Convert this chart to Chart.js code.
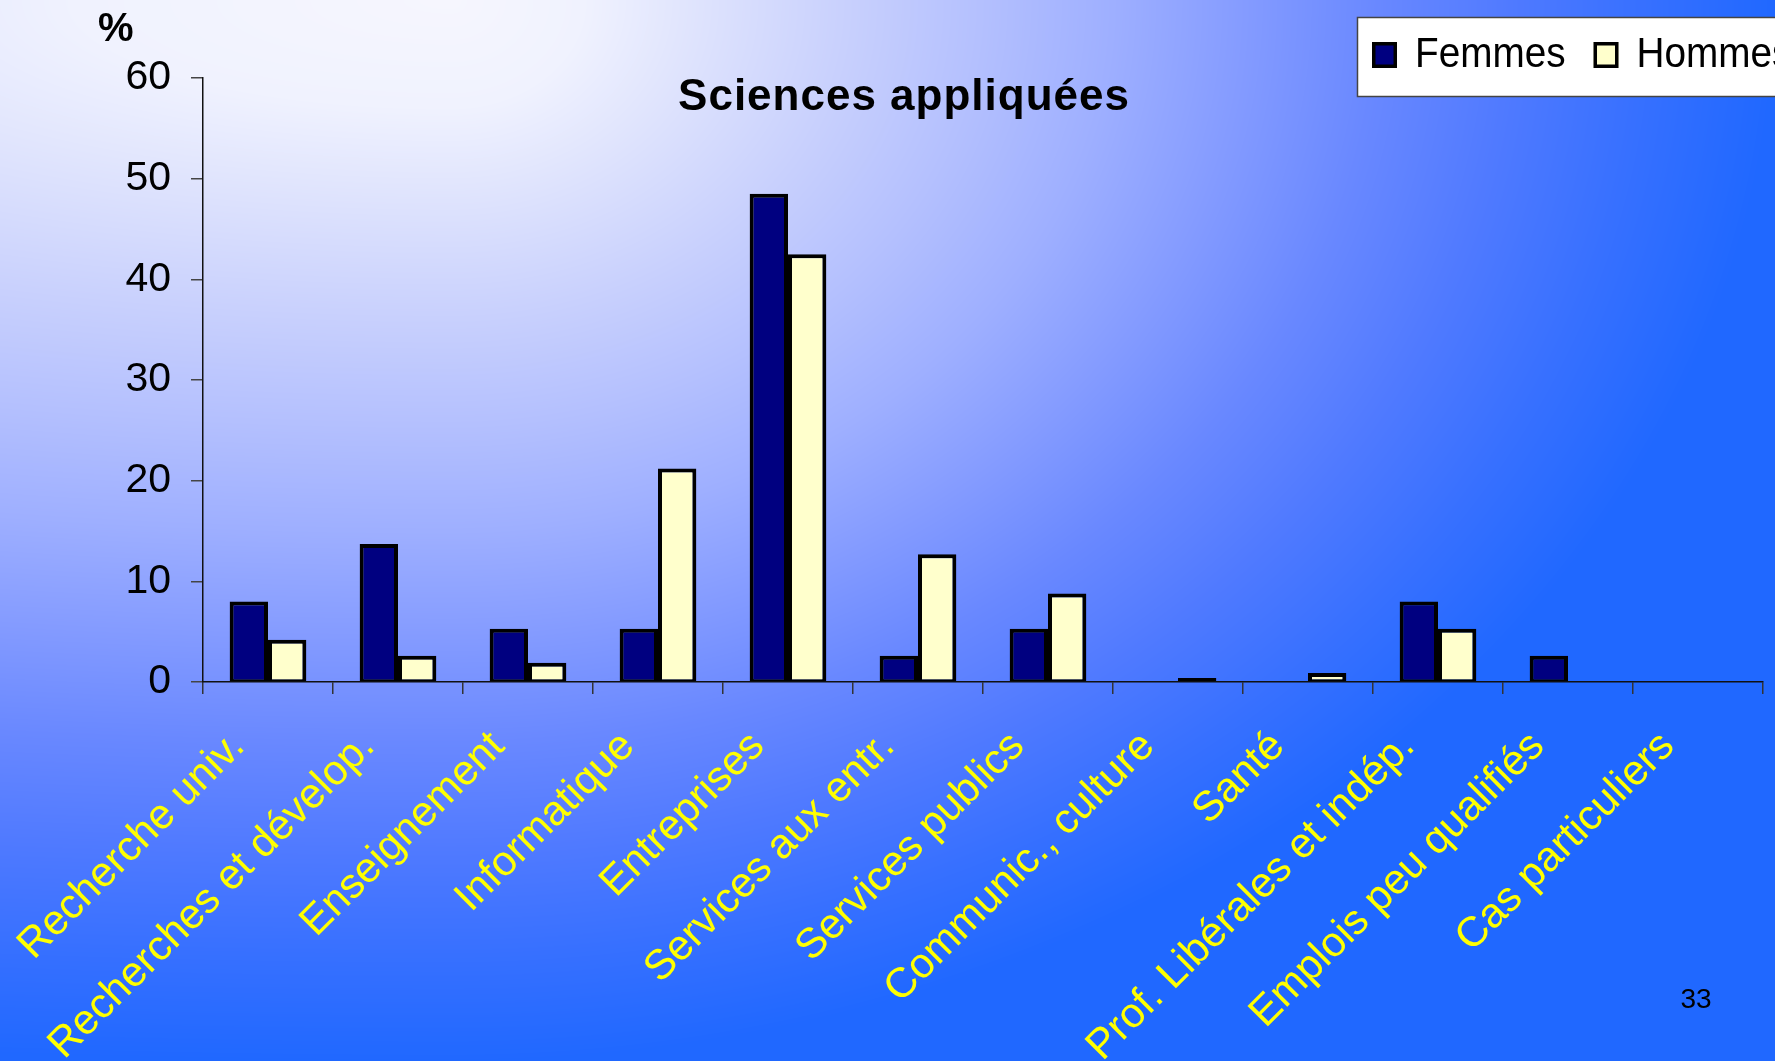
<!DOCTYPE html>
<html>
<head>
<meta charset="utf-8">
<title>Sciences appliquées</title>
<script src="https://cdn.jsdelivr.net/npm/chart.js@4/dist/chart.umd.min.js"></script>
<style>
  html, body { margin: 0; padding: 0; overflow: hidden; background: #ffffff; }
  canvas { display: block; }
</style>
</head>
<body>
<canvas id="chart" width="1775" height="1061"></canvas>
<script>
// Débouchés par secteur, en % des diplômés (Sciences appliquées)
const categories = [
  "Recherche univ.", "Recherches et dévelop.", "Enseignement", "Informatique",
  "Entreprises", "Services aux entr.", "Services publics", "Communic., culture",
  "Santé", "Prof. Libérales et indép.", "Emplois peu qualifiés", "Cas particuliers"
];
const femmes = [8.0, 13.7, 5.3, 5.3, 48.5, 2.6, 5.3, 0, 0, 8.0, 2.6, 0];
const hommes = [4.2, 2.6, 1.9, 21.2, 42.5, 12.7, 8.8, 0.4, 0.9, 5.3, 0, 0];
const seriesNames = ["Femmes", "Hommes"];
const yTicks = [0, 10, 20, 30, 40, 50, 60];
const chartTitle = "Sciences appliquées";
const unitLabel = "%";
const pageNumber = "33";

const FONT = '"Liberation Sans", Arial, Helvetica, sans-serif';

// Slide background: light spot near the top, deepening to blue towards the edges
const bgStops = [
  [0.0, [246, 246, 254]], [0.1, [240, 242, 254]], [0.2, [220, 225, 253]],
  [0.3, [200, 208, 253]], [0.4, [180, 192, 254]], [0.5, [158, 175, 255]],
  [0.6, [132, 155, 255]], [0.7, [105, 136, 255]], [0.8, [80, 122, 255]],
  [0.9, [55, 112, 255]], [1.0, [32, 104, 255]]
];
function rampColor(t) {
  if (t <= 0) return bgStops[0][1];
  if (t >= 1) return bgStops[bgStops.length - 1][1];
  for (let i = 1; i < bgStops.length; i++) {
    const [t1, c1] = bgStops[i];
    const [t0, c0] = bgStops[i - 1];
    if (t <= t1) {
      const f = (t - t0) / (t1 - t0);
      return [c0[0] + (c1[0] - c0[0]) * f, c0[1] + (c1[1] - c0[1]) * f, c0[2] + (c1[2] - c0[2]) * f];
    }
  }
  return bgStops[bgStops.length - 1][1];
}
let bgCache = null;
function buildBackground(w, h) {
  const off = document.createElement('canvas');
  off.width = w; off.height = h;
  const octx = off.getContext('2d');
  const img = octx.createImageData(w, h);
  const cx = 450;
  for (let y = 0; y < h; y++) {
    const dy = y / h;
    for (let x = 0; x < w; x++) {
      const dx = x > cx ? (x - cx) / (w - cx) : (cx - x) / (cx * 8.3);
      const t = Math.sqrt(dx * dx + dy * dy);
      const c = rampColor(t);
      const k = (y * w + x) * 4;
      img.data[k] = c[0]; img.data[k + 1] = c[1]; img.data[k + 2] = c[2]; img.data[k + 3] = 255;
    }
  }
  octx.putImageData(img, 0, 0);
  return off;
}

const backgroundPlugin = {
  id: 'slideBackground',
  beforeDraw(chart) {
    const { ctx, width, height } = chart;
    if (!bgCache || bgCache.width !== width || bgCache.height !== height) {
      bgCache = buildBackground(width, height);
    }
    ctx.save();
    ctx.drawImage(bgCache, 0, 0);
    ctx.restore();
  }
};

// Title, unit label, legend box and slide number
const decorPlugin = {
  id: 'slideDecor',
  afterDraw(chart) {
    const { ctx } = chart;
    ctx.save();

    // chart title
    ctx.fillStyle = '#000000';
    ctx.font = `bold 44px ${FONT}`;
    ctx.textAlign = 'center';
    ctx.textBaseline = 'alphabetic';
    if ('letterSpacing' in ctx) ctx.letterSpacing = '1px';
    ctx.fillText(chartTitle, 904, 110);
    if ('letterSpacing' in ctx) ctx.letterSpacing = '0px';

    // unit above the value axis
    ctx.font = `bold 40px ${FONT}`;
    ctx.textAlign = 'left';
    ctx.fillText(unitLabel, 98, 41);

    // legend box (runs past the right edge)
    ctx.fillStyle = '#ffffff';
    ctx.fillRect(1357, 17, 480, 80);
    ctx.strokeStyle = '#444444';
    ctx.lineWidth = 1.5;
    ctx.strokeRect(1357.5, 17.5, 480, 79);

    let x = 1372;
    chart.data.datasets.forEach((ds) => {
      ctx.fillStyle = ds.backgroundColor;
      ctx.fillRect(x, 42, 25, 26);
      ctx.strokeStyle = '#000000';
      ctx.lineWidth = 3.5;
      ctx.strokeRect(x + 1.75, 43.75, 21.5, 22.5);
      ctx.save();
      ctx.translate(x + 43, 67);
      ctx.scale(0.9, 1);
      ctx.fillStyle = '#000000';
      ctx.font = `43px ${FONT}`;
      ctx.textAlign = 'left';
      ctx.textBaseline = 'alphabetic';
      ctx.fillText(ds.label, 0, 0);
      const tw = ctx.measureText(ds.label).width * 0.9;
      ctx.restore();
      x += 43 + tw + 28;
    });

    // slide number
    ctx.fillStyle = '#000000';
    ctx.font = `28px ${FONT}`;
    ctx.textAlign = 'center';
    ctx.textBaseline = 'alphabetic';
    ctx.fillText(pageNumber, 1696, 1008);

    ctx.restore();
  }
};

const barBorder = { top: 4, left: 4, right: 4, bottom: 2 };

const ctx = document.getElementById('chart').getContext('2d');
new Chart(ctx, {
  type: 'bar',
  data: {
    labels: categories,
    datasets: [
      {
        label: seriesNames[0],
        data: femmes,
        backgroundColor: '#000080',
        borderColor: '#000000',
        borderWidth: barBorder,
        borderSkipped: false
      },
      {
        label: seriesNames[1],
        data: hommes,
        backgroundColor: '#FFFFCC',
        borderColor: '#000000',
        borderWidth: barBorder,
        borderSkipped: false
      }
    ]
  },
  options: {
    responsive: false,
    animation: false,
    devicePixelRatio: 1,
    layout: { padding: { top: 78, right: 12, left: 0, bottom: 0 } },
    datasets: { bar: { categoryPercentage: 0.59, barPercentage: 1 } },
    plugins: {
      legend: { display: false },
      title: { display: false },
      tooltip: { enabled: false }
    },
    scales: {
      x: {
        offset: true,
        grid: {
          display: true,
          offset: true,
          drawOnChartArea: false,
          drawTicks: true,
          tickLength: 12,
          color: '#333333',
          lineWidth: 1.5
        },
        border: { display: true, color: '#111111', width: 1.5 },
        ticks: {
          color: '#FFFF00',
          font: { family: FONT, size: 42 },
          minRotation: 45,
          maxRotation: 45,
          autoSkip: false,
          padding: 28,
          labelOffset: -30
        },
        afterFit(scale) {
          scale.height = 1061 - 682;
          scale.paddingLeft = 0;
          scale.paddingRight = 0;
        }
      },
      y: {
        min: yTicks[0],
        max: yTicks[yTicks.length - 1],
        afterBuildTicks(scale) {
          scale.ticks = yTicks.map(v => ({ value: v }));
        },
        grid: {
          display: true,
          drawOnChartArea: false,
          drawTicks: true,
          tickLength: 12,
          color: '#444444',
          lineWidth: 1.5
        },
        border: { display: true, color: '#111111', width: 1.5 },
        ticks: {
          color: '#000000',
          font: { family: FONT, size: 41 },
          padding: 20
        },
        afterFit(scale) {
          scale.width = 203;
          scale.paddingTop = 0;
          scale.paddingBottom = 0;
        }
      }
    }
  },
  plugins: [backgroundPlugin, decorPlugin]
});
</script>
</body>
</html>
